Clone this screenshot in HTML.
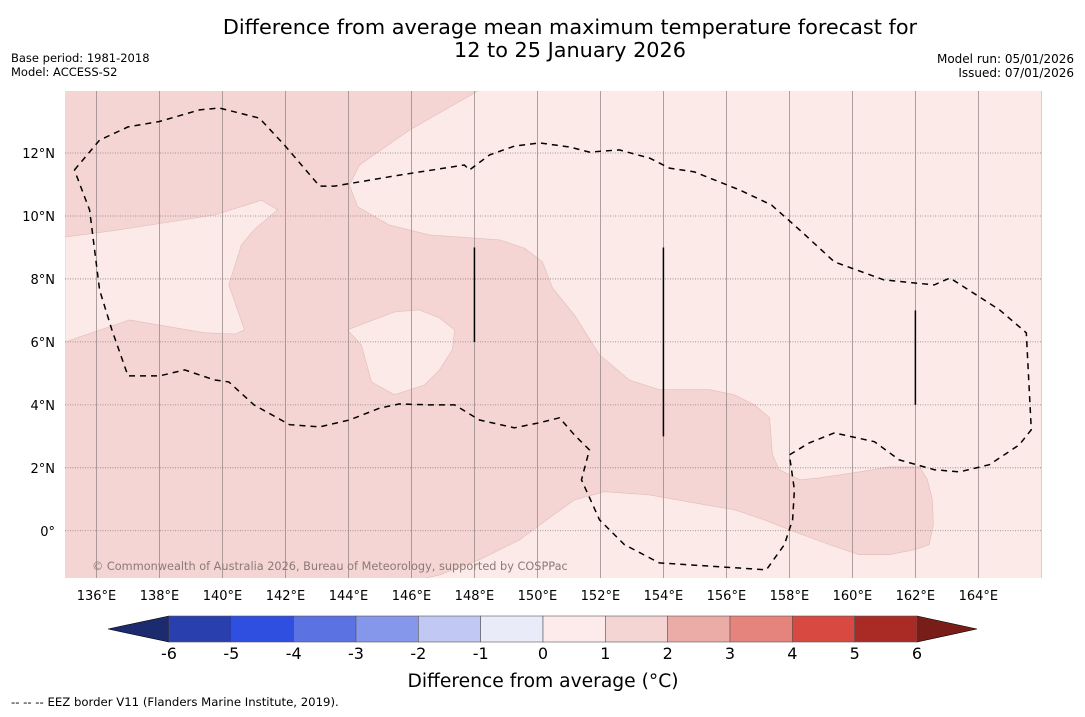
<!DOCTYPE html>
<html><head><meta charset="utf-8"><style>
body{margin:0;background:#fff;font-family:"DejaVu Sans","Liberation Sans",sans-serif;}
svg text{font-family:"DejaVu Sans","Liberation Sans",sans-serif;}
</style></head><body>
<svg id="chart" width="1085" height="713" xmlns="http://www.w3.org/2000/svg">
<text x="570" y="34" font-size="20.8" text-anchor="middle">Difference from average mean maximum temperature forecast for</text>
<text x="570" y="57" font-size="20.8" text-anchor="middle">12 to 25 January 2026</text>
<text x="11" y="62" font-size="11.5">Base period: 1981-2018</text>
<text x="11" y="76" font-size="11.5">Model: ACCESS-S2</text>
<text x="1074" y="63" font-size="12" text-anchor="end">Model run: 05/01/2026</text>
<text x="1074" y="77" font-size="12" text-anchor="end">Issued: 07/01/2026</text>
<g id="map"></g>
<g id="cbar"></g>
<text x="543" y="687" font-size="18.7" text-anchor="middle">Difference from average (°C)</text>
<text x="11" y="706" font-size="11.7">--  --  -- EEZ border V11 (Flanders Marine Institute, 2019).</text>
</svg>
<script>
const lonTicks=[136,138,140,142,144,146,148,150,152,154,156,158,160,162,164];
const latTicks=[0,2,4,6,8,10,12];
const latLabels=["0°","2°N","4°N","6°N","8°N","10°N","12°N"];
const cbarBounds=[-6,-5,-4,-3,-2,-1,0,1,2,3,4,5,6];
const cbarColors=["#2a3fae","#2f4fe0","#5a72e2","#8497ea","#c0c8f3","#e9ebf9","#fcebea","#f4d5d3","#ebaca7","#e5847c","#d84a41","#aa2b25"];
const cbarLow="#1c2a70", cbarHigh="#781d18";
const baseColor="#f4d5d3", lightColor="#fbeae8";
const lightRegionWest=[[135,9.33],[136.73,9.56],[139.75,10.03],[141.24,10.5],[141.75,10.2],[141.0,9.56],[140.6,9.08],[140.2,7.81],[140.7,6.38],[140.4,6.25],[139.43,6.29],[137.05,6.7],[135,6.0]];
const lightRegionEast=[[148.16,14],[145.94,12.73],[144.35,11.62],[144.03,10.98],[144.29,10.29],[145.3,9.71],[146.57,9.4],[148.8,9.24],[149.59,8.98],[150.16,8.54],[150.48,7.71],[151.17,6.86],[151.97,5.59],[152.92,4.79],[153.87,4.48],[155.46,4.48],[156.25,4.32],[156.89,4.0],[157.37,3.59],[157.46,2.41],[157.68,1.94],[158.32,1.62],[158.95,1.68],[160.22,1.87],[161.17,2.03],[162.13,2.03],[162.38,1.62],[162.54,0.98],[162.57,0.19],[162.44,-0.44],[161.97,-0.6],[161.17,-0.76],[160.22,-0.76],[159.27,-0.44],[158.0,0.03],[157.2,0.35],[156.25,0.67],[155.3,0.83],[153.56,1.14],[152.13,1.24],[151.17,0.98],[150.38,0.41],[149.43,-0.29],[148.16,-0.92],[146.89,-1.4],[146.25,-1.55],[166,-1.55],[166,14]];
const lightRegionCentral=[[143.97,6.38],[145.46,6.95],[146.25,7.02],[146.89,6.76],[147.37,6.38],[147.3,5.75],[146.89,5.11],[146.41,4.63],[145.46,4.32],[144.73,4.73],[144.41,5.9]];
const eezLine=[[135.3,11.46],[136.1,12.41],[137.0,12.83],[138.0,13.0],[139.27,13.37],[139.9,13.43],[141.17,13.11],[141.97,12.25],[143.08,10.95],[143.56,10.95],[145.62,11.3],[147.68,11.62],[147.84,11.46],[148.48,11.94],[149.27,12.22],[150.06,12.32],[151.02,12.19],[151.65,12.03],[152.6,12.1],[153.56,11.84],[154.19,11.52],[154.98,11.4],[156.41,10.83],[157.43,10.35],[158.32,9.56],[159.43,8.54],[161.0,7.97],[162.6,7.81],[163.1,8.03],[164.67,7.02],[165.52,6.29],[165.68,3.21],[165.3,2.73],[164.35,2.1],[163.4,1.87],[162.6,1.94],[161.49,2.25],[160.7,2.83],[159.43,3.11],[158.63,2.79],[158.0,2.41],[158.16,1.3],[158.1,0.35],[157.84,-0.44],[157.27,-1.24],[153.87,-1.02],[152.76,-0.44],[151.97,0.35],[151.4,1.62],[151.65,2.57],[151.17,3.05],[150.7,3.59],[150.06,3.43],[149.27,3.27],[148.16,3.52],[147.37,4.0],[146.57,4.0],[145.62,4.03],[145.0,3.9],[144.03,3.52],[143.08,3.3],[142.13,3.37],[141.0,4.0],[140.2,4.73],[139.75,4.79],[138.8,5.11],[138.0,4.92],[137.0,4.92],[136.49,6.38],[136.1,7.65],[135.78,10.19],[135.3,11.46]];
const boundaryLines=[[148,9,6],[154,9,3],[162,7,4]];

const NS="http://www.w3.org/2000/svg";
const X0=65,X1=1042,Y0=91,Y1=578;
const lonMin=135,lonMax=166.02,latMin=-1.5,latMax=13.97;
function sx(lon){return X0+(lon-lonMin)/(lonMax-lonMin)*(X1-X0);}
function sy(lat){return Y1-(lat-latMin)/(latMax-latMin)*(Y1-Y0);}
function mk(tag,attrs,parent){const e=document.createElementNS(NS,tag);for(const k in attrs)e.setAttribute(k,attrs[k]);parent.appendChild(e);return e;}
const map=document.getElementById('map');
const defs=mk('defs',{},map);
const cp=mk('clipPath',{id:'clip'},defs);
mk('rect',{x:X0,y:Y0,width:X1-X0,height:Y1-Y0},cp);
const g=mk('g',{'clip-path':'url(#clip)'},map);
let r=mk('rect',{x:X0,y:Y0,width:X1-X0,height:Y1-Y0,fill:baseColor},g);


function pts(a){return a.map(p=>sx(p[0]).toFixed(1)+','+sy(p[1]).toFixed(1)).join(' ');}
[[lightRegionWest,'light-region-west'],[lightRegionEast,'light-region-east'],[lightRegionCentral,'light-region-central']].forEach(([a,n])=>{
 const p=mk('polygon',{points:pts(a),fill:lightColor,stroke:'#e2bcb9','stroke-width':0.6},g);
 
 
});
lonTicks.forEach(l=>{
 const x=sx(l);
 const ln=mk('line',{x1:x,x2:x,y1:Y0,y2:Y1,stroke:'#9a8c8b','stroke-width':0.8},g);
 
 
});
latTicks.forEach(l=>{
 const y=sy(l);
 const ln=mk('line',{x1:X0,x2:X1,y1:y,y2:y,stroke:'#8a7e7d','stroke-width':0.8,'stroke-dasharray':'1,1.5'},g);
 
 
});
const eez=mk('polyline',{points:pts(eezLine),fill:'none',stroke:'#000','stroke-width':1.5,'stroke-dasharray':'6,5'},g);


boundaryLines.forEach(b=>{
 const l=mk('line',{x1:sx(b[0]),x2:sx(b[0]),y1:sy(b[1]),y2:sy(b[2]),stroke:'#000','stroke-width':1.5},g);
 
 
});
const cr=mk('text',{x:92,y:570,'font-size':11.3,fill:'#8a7a79'},g);
cr.textContent='© Commonwealth of Australia 2026, Bureau of Meteorology, supported by COSPPac';


lonTicks.forEach(l=>{
 const t=mk('text',{x:sx(l),y:600,'font-size':13,'text-anchor':'middle'},map);
 t.textContent=l+'°E';
 
 
});
latTicks.forEach((l,i)=>{
 const t=mk('text',{x:55,y:sy(l)+5,'font-size':13,'text-anchor':'end'},map);
 t.textContent=latLabels[i];
 
 
});
const cb=document.getElementById('cbar');
const C0=169,C1=917,CY0=616,CY1=642,CL=108,CR=977;
function cx(v){return C0+(v-cbarBounds[0])/(cbarBounds[cbarBounds.length-1]-cbarBounds[0])*(C1-C0);}
let lo=mk('polygon',{points:`${C0},${CY0} ${CL},${(CY0+CY1)/2} ${C0},${CY1}`,fill:cbarLow,stroke:'#000','stroke-width':0.6},cb);


let hi=mk('polygon',{points:`${C1},${CY0} ${CR},${(CY0+CY1)/2} ${C1},${CY1}`,fill:cbarHigh,stroke:'#000','stroke-width':0.6},cb);


cbarColors.forEach((c,i)=>{
 const a=cx(cbarBounds[i]),b=cx(cbarBounds[i+1]);
 const rc=mk('rect',{x:a,y:CY0,width:b-a,height:CY1-CY0,fill:c,stroke:'#555','stroke-width':0.6},cb);
 
 
});
cbarBounds.forEach(v=>{
 const t=mk('text',{x:cx(v),y:659,'font-size':16,'text-anchor':'middle'},cb);
 t.textContent=v;
 
 
});
</script>
</body></html>
